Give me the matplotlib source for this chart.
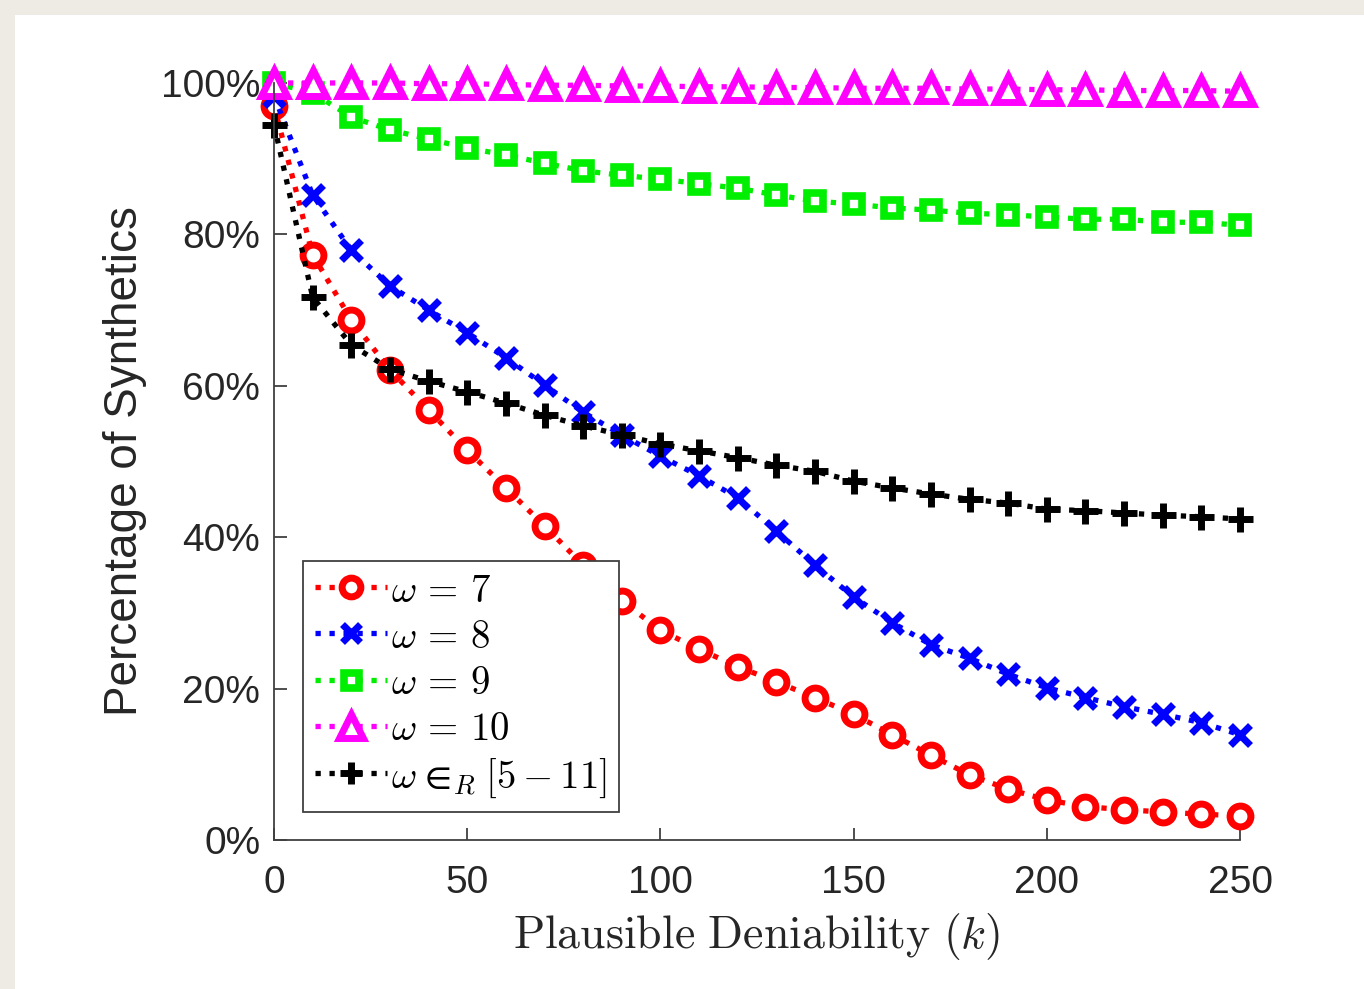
import numpy as np
import matplotlib
matplotlib.use("Agg")
import matplotlib.pyplot as plt
from matplotlib.patches import Rectangle

# --- dữ liệu ---
k_vals = [0, 10, 20, 30, 40, 50, 60, 70, 80, 90, 100, 110, 120, 130, 140,
          150, 160, 170, 180, 190, 200, 210, 220, 230, 240, 250]

w7 = [97.0, 77.3, 68.7, 62.1, 56.8, 51.5, 46.5, 41.5, 36.3, 31.6, 27.7, 25.2, 22.9,
      20.9, 18.8, 16.6, 13.9, 11.2, 8.6, 6.7, 5.3, 4.4, 4.0, 3.7, 3.4, 3.2]
w8 = [98.3, 85.2, 77.9, 73.2, 70.0, 67.0, 63.7, 60.1, 56.5, 53.5, 50.7, 48.1, 45.2,
      40.8, 36.3, 32.1, 28.7, 25.8, 24.0, 21.9, 20.1, 18.8, 17.6, 16.6, 15.5, 13.9]
w9 = [100.0, 98.7, 95.5, 93.8, 92.6, 91.4, 90.5, 89.4, 88.4, 87.8, 87.3, 86.7, 86.1,
      85.2, 84.4, 84.0, 83.5, 83.2, 82.8, 82.6, 82.3, 82.0, 82.0, 81.6, 81.6, 81.2]
w10 = [100.0, 100.0, 100.0, 100.0, 99.9, 99.9, 99.8, 99.7, 99.7, 99.6, 99.6, 99.5, 99.5,
       99.4, 99.4, 99.3, 99.3, 99.3, 99.2, 99.2, 99.1, 99.1, 99.0, 99.0, 99.0, 98.9]
w_rand = [94.5, 71.7, 65.4, 62.2, 60.6, 59.2, 57.7, 56.1, 54.7, 53.5, 52.3, 51.4, 50.5,
          49.5, 48.7, 47.4, 46.5, 45.7, 45.0, 44.5, 43.7, 43.5, 43.2, 42.9, 42.7, 42.4]

labels = [r"$\omega\,=\,7$", r"$\omega\,=\,8$", r"$\omega\,=\,9$", r"$\omega\,=\,10$",
          r"$\omega\;∈_R\;[5-11]$"]
y_ticks = [0, 20, 40, 60, 80, 100]
y_ticklabels = ["0%", "20%", "40%", "60%", "80%", "100%"]
x_ticks = [0, 50, 100, 150, 200, 250]

plt.rcParams['mathtext.fontset'] = 'cm'
plt.rcParams['font.family'] = ['Liberation Sans', 'DejaVu Sans']

fig = plt.figure(figsize=(13.64, 9.89), dpi=100, facecolor='#eeebe4')
# nền trắng (viền be ở trên và bên trái)
fig.add_artist(Rectangle((15 / 1364, 0), 1, 1 - 15 / 989, transform=fig.transFigure,
                         facecolor='white', edgecolor='none', zorder=-10))

ax = fig.add_axes([0.2009, 0.1507, 0.7082, 0.7654])
ax.set_facecolor('none')

styles = [
    dict(color='red', marker='o', ms=15, mew=5, mfc='white'),
    dict(color='blue', marker='x', ms=14, mew=5),
    dict(color='#00ee00', marker='s', ms=12, mew=5.5, mfc='white'),
    dict(color='magenta', marker='^', ms=19, mew=5, mfc='white'),
    dict(color='black', marker='+', ms=18, mew=5),
]
series = [w7, w8, w9, w10, w_rand]

for vals, st, lab in zip(series, styles, labels):
    ax.plot(k_vals, vals, linestyle=':', linewidth=3.8, label=lab, clip_on=False, **st)

ax.set_xlim(0, 250)
ax.set_ylim(0, 100)
ax.set_xticks(x_ticks)
ax.set_yticks(y_ticks)
ax.set_yticklabels(y_ticklabels)

for s in ['top', 'right']:
    ax.spines[s].set_visible(False)
for s in ['left', 'bottom']:
    ax.spines[s].set_color('#404040')
    ax.spines[s].set_linewidth(1.3)

ax.tick_params(axis='both', direction='in', length=9, width=1.3, color='#404040',
               labelsize=28, labelcolor='#262626')
ax.tick_params(axis='y', pad=10)
ax.tick_params(axis='x', pad=18)

ax.set_ylabel("Percentage of Synthetics", fontsize=33, color='#262626', labelpad=10)
ax.set_xlabel(r"$\mathrm{Plausible\ Deniability}\ (k)$", fontsize=33, color='#262626',
              labelpad=7)

leg = ax.legend(loc='lower left', bbox_to_anchor=(0.030, 0.037), borderaxespad=0,
                fontsize=28, numpoints=1, fancybox=False, framealpha=1,
                edgecolor='#404040', handlelength=1.85, handletextpad=0.12,
                labelspacing=0.22, borderpad=0.3, handleheight=0.9)
leg.get_frame().set_linewidth(1.3)
for h in leg.get_lines():
    h.set_markersize(h.get_markersize() * 0.9)

fig.savefig("out.png", dpi=100, facecolor=fig.get_facecolor())
